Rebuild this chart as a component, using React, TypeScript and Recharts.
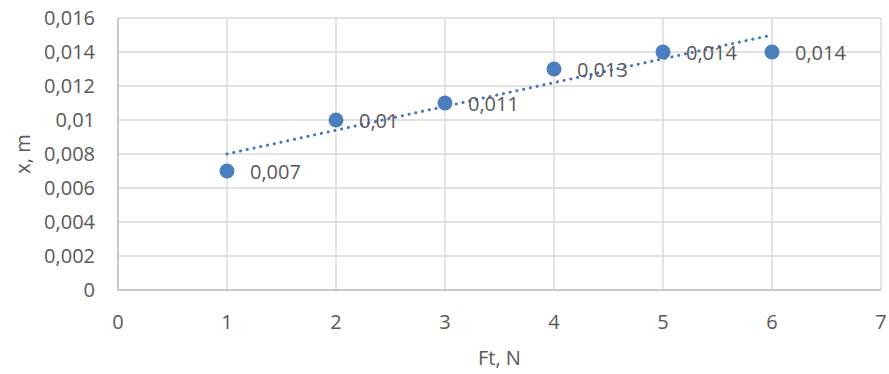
import React from 'react';
import { ScatterChart, Scatter, XAxis, YAxis, CartesianGrid, ReferenceLine, Label } from 'recharts';

const forces = [1, 2, 3, 4, 5, 6];
const displacements = [0.007, 0.01, 0.011, 0.013, 0.014, 0.014];
const xTicks = [0, 1, 2, 3, 4, 5, 6, 7];
const yTicks = [0, 0.002, 0.004, 0.006, 0.008, 0.01, 0.012, 0.014, 0.016];

const xTitle = 'Ft, N';
const yTitle = 'x, m';

const TEXT = '#595959';
const FONT = '"Open Sans", "Noto Sans", sans-serif';
const FS = 20;
const POINT = '#4a7ebf';
const TREND = '#4472c4';

const fmt = (v: number) => String(parseFloat(Number(v).toFixed(4))).replace('.', ',');

const points = forces.map((f, i) => ({ x: f, y: displacements[i] }));

// linear least-squares trendline (Excel "Linear" trendline)
const n = forces.length;
const mx = forces.reduce((a, b) => a + b, 0) / n;
const my = displacements.reduce((a, b) => a + b, 0) / n;
const sxy = forces.reduce((s, f, i) => s + (f - mx) * (displacements[i] - my), 0);
const sxx = forces.reduce((s, f) => s + (f - mx) * (f - mx), 0);
const slope = sxy / sxx;
const intercept = my - slope * mx;
const xMin = Math.min(...forces);
const xMax = Math.max(...forces);
const trendSegment = [
  { x: xMin, y: intercept + slope * xMin },
  { x: xMax, y: intercept + slope * xMax },
];

const PointShape = (props: any) => {
  const { cx, cy, payload } = props;
  if (cx == null || cy == null) return null;
  return (
    <g>
      <circle cx={cx} cy={cy} r={7.5} fill={POINT} />
      <text x={cx + 23} y={cy + 8} fill={TEXT} fontSize={FS} fontFamily={FONT} textAnchor="start">
        {fmt(payload.y)}
      </text>
    </g>
  );
};

const YTitle = (props: any) => {
  const vb = props.viewBox || {};
  const x = (vb.x ?? 0) + 22;
  const y = (vb.y ?? 0) + (vb.height ?? 0) / 2;
  return (
    <text
      x={x}
      y={y}
      transform={`rotate(-90, ${x}, ${y})`}
      textAnchor="middle"
      dominantBaseline="central"
      fill={TEXT}
      fontSize={FS}
      fontFamily={FONT}
    >
      {yTitle}
    </text>
  );
};

export default function App() {
  return (
    <div style={{ position: 'absolute', left: 0, top: 0 }}>
      <ScatterChart width={889} height={374} margin={{ top: 18, right: 8, bottom: 0, left: 0 }}>
        <CartesianGrid stroke="#d9d9d9" strokeWidth={1.4} />
        <XAxis
          type="number"
          dataKey="x"
          domain={[0, 7]}
          ticks={xTicks}
          interval={0}
          tickLine={false}
          tickSize={0}
          tickMargin={25}
          height={84}
          axisLine={{ stroke: '#bfbfbf', strokeWidth: 1.5 }}
          tick={{ fill: TEXT, fontSize: FS, fontFamily: FONT }}
        >
          <Label value={xTitle} position="insideBottom" offset={9} fill={TEXT} fontSize={FS} fontFamily={FONT} />
        </XAxis>
        <YAxis
          type="number"
          dataKey="y"
          domain={[0, 0.016]}
          ticks={yTicks}
          interval={0}
          tickLine={false}
          tickSize={0}
          tickMargin={23}
          width={118}
          tickFormatter={fmt}
          axisLine={{ stroke: '#bfbfbf', strokeWidth: 1.5 }}
          tick={{ fill: TEXT, fontSize: FS, fontFamily: FONT }}
        >
          <Label content={<YTitle />} />
        </YAxis>
        <ReferenceLine
          segment={trendSegment}
          stroke={TREND}
          strokeWidth={3}
          strokeDasharray="0.1 6.8"
          strokeLinecap="round"
        />
        <Scatter data={points} isAnimationActive={false} shape={<PointShape />} />
      </ScatterChart>
    </div>
  );
}
